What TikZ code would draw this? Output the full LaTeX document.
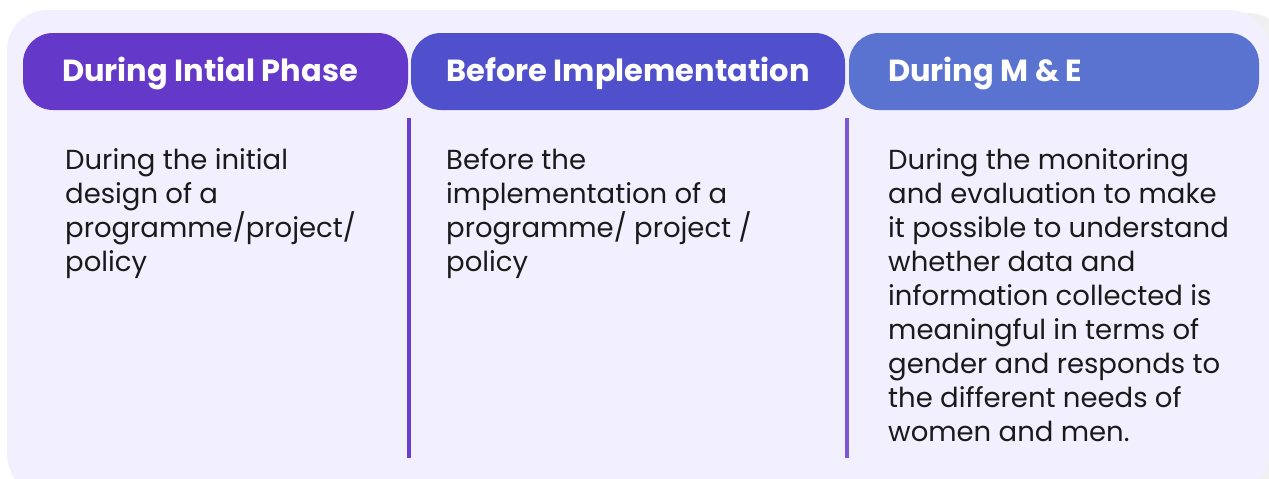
\documentclass[tikz,border=0pt]{standalone}
\usepackage{fontspec}
\setmainfont{Poppins}
\begin{document}
\begin{tikzpicture}[x=1pt,y=-1pt,
  pill/.style={rounded corners=30pt, inner sep=0pt},
  head/.style={anchor=base west, text=white, font=\fontsize{30.5}{36}\selectfont\bfseries, inner sep=0pt},
  body/.style={anchor=base west, align=left, text=textdark, inner sep=0pt, font=\fontsize{27.5}{34}\selectfont},
  sep/.style={line width=4pt}
]
\definecolor{panel}{HTML}{F2F0FE}
\definecolor{pillA}{HTML}{6438C8}
\definecolor{pillB}{HTML}{5150CC}
\definecolor{pillC}{HTML}{5A73D0}
\definecolor{lineA}{HTML}{6A3ED0}
\definecolor{lineB}{HTML}{7B55D5}
\definecolor{textdark}{HTML}{1A1A1A}
\useasboundingbox (0,0) rectangle (1269,479);
\fill[white] (0,0) rectangle (1269,479);
\fill[black!6, rounded corners=42pt] (9,13) rectangle (1290,500);
\fill[panel, rounded corners=40pt] (7,10) rectangle (1269,494);
% pills
\fill[pillA, pill] (23,33) rectangle (408,110);
\fill[pillB, pill] (411,33) rectangle (845,110);
\fill[pillC, pill] (849,33) rectangle (1259,110);
\node[head] (h1) at (62,81) {During Intial Phase};
\node[head] (h2) at (446,81) {Before Implementation};
\node[head] (h3) at (888,81) {During M \& E};
% separators
\coordinate (s1t) at (409,118); \coordinate (s1b) at (409,458);
\coordinate (s2t) at (847,118); \coordinate (s2b) at (847,458);
\draw[sep, lineA] (s1t) -- (s1b);
\draw[sep, lineB] (s2t) -- (s2b);
% body text (anchored at the baseline of the last line; first baseline at y=169, line pitch 34)
\node[body] (b1) at (65,271) {During the initial\\design of a\\programme/project/\\policy};
\node[body] (b2) at (446,271) {Before the\\implementation of a\\programme/ project /\\policy};
\node[body] (b3) at (888,441) {During the monitoring\\and evaluation to make\\it possible to understand\\whether data and\\information collected is\\meaningful in terms of\\gender and responds to\\the different needs of\\women and men.};
\end{tikzpicture}
\end{document}
